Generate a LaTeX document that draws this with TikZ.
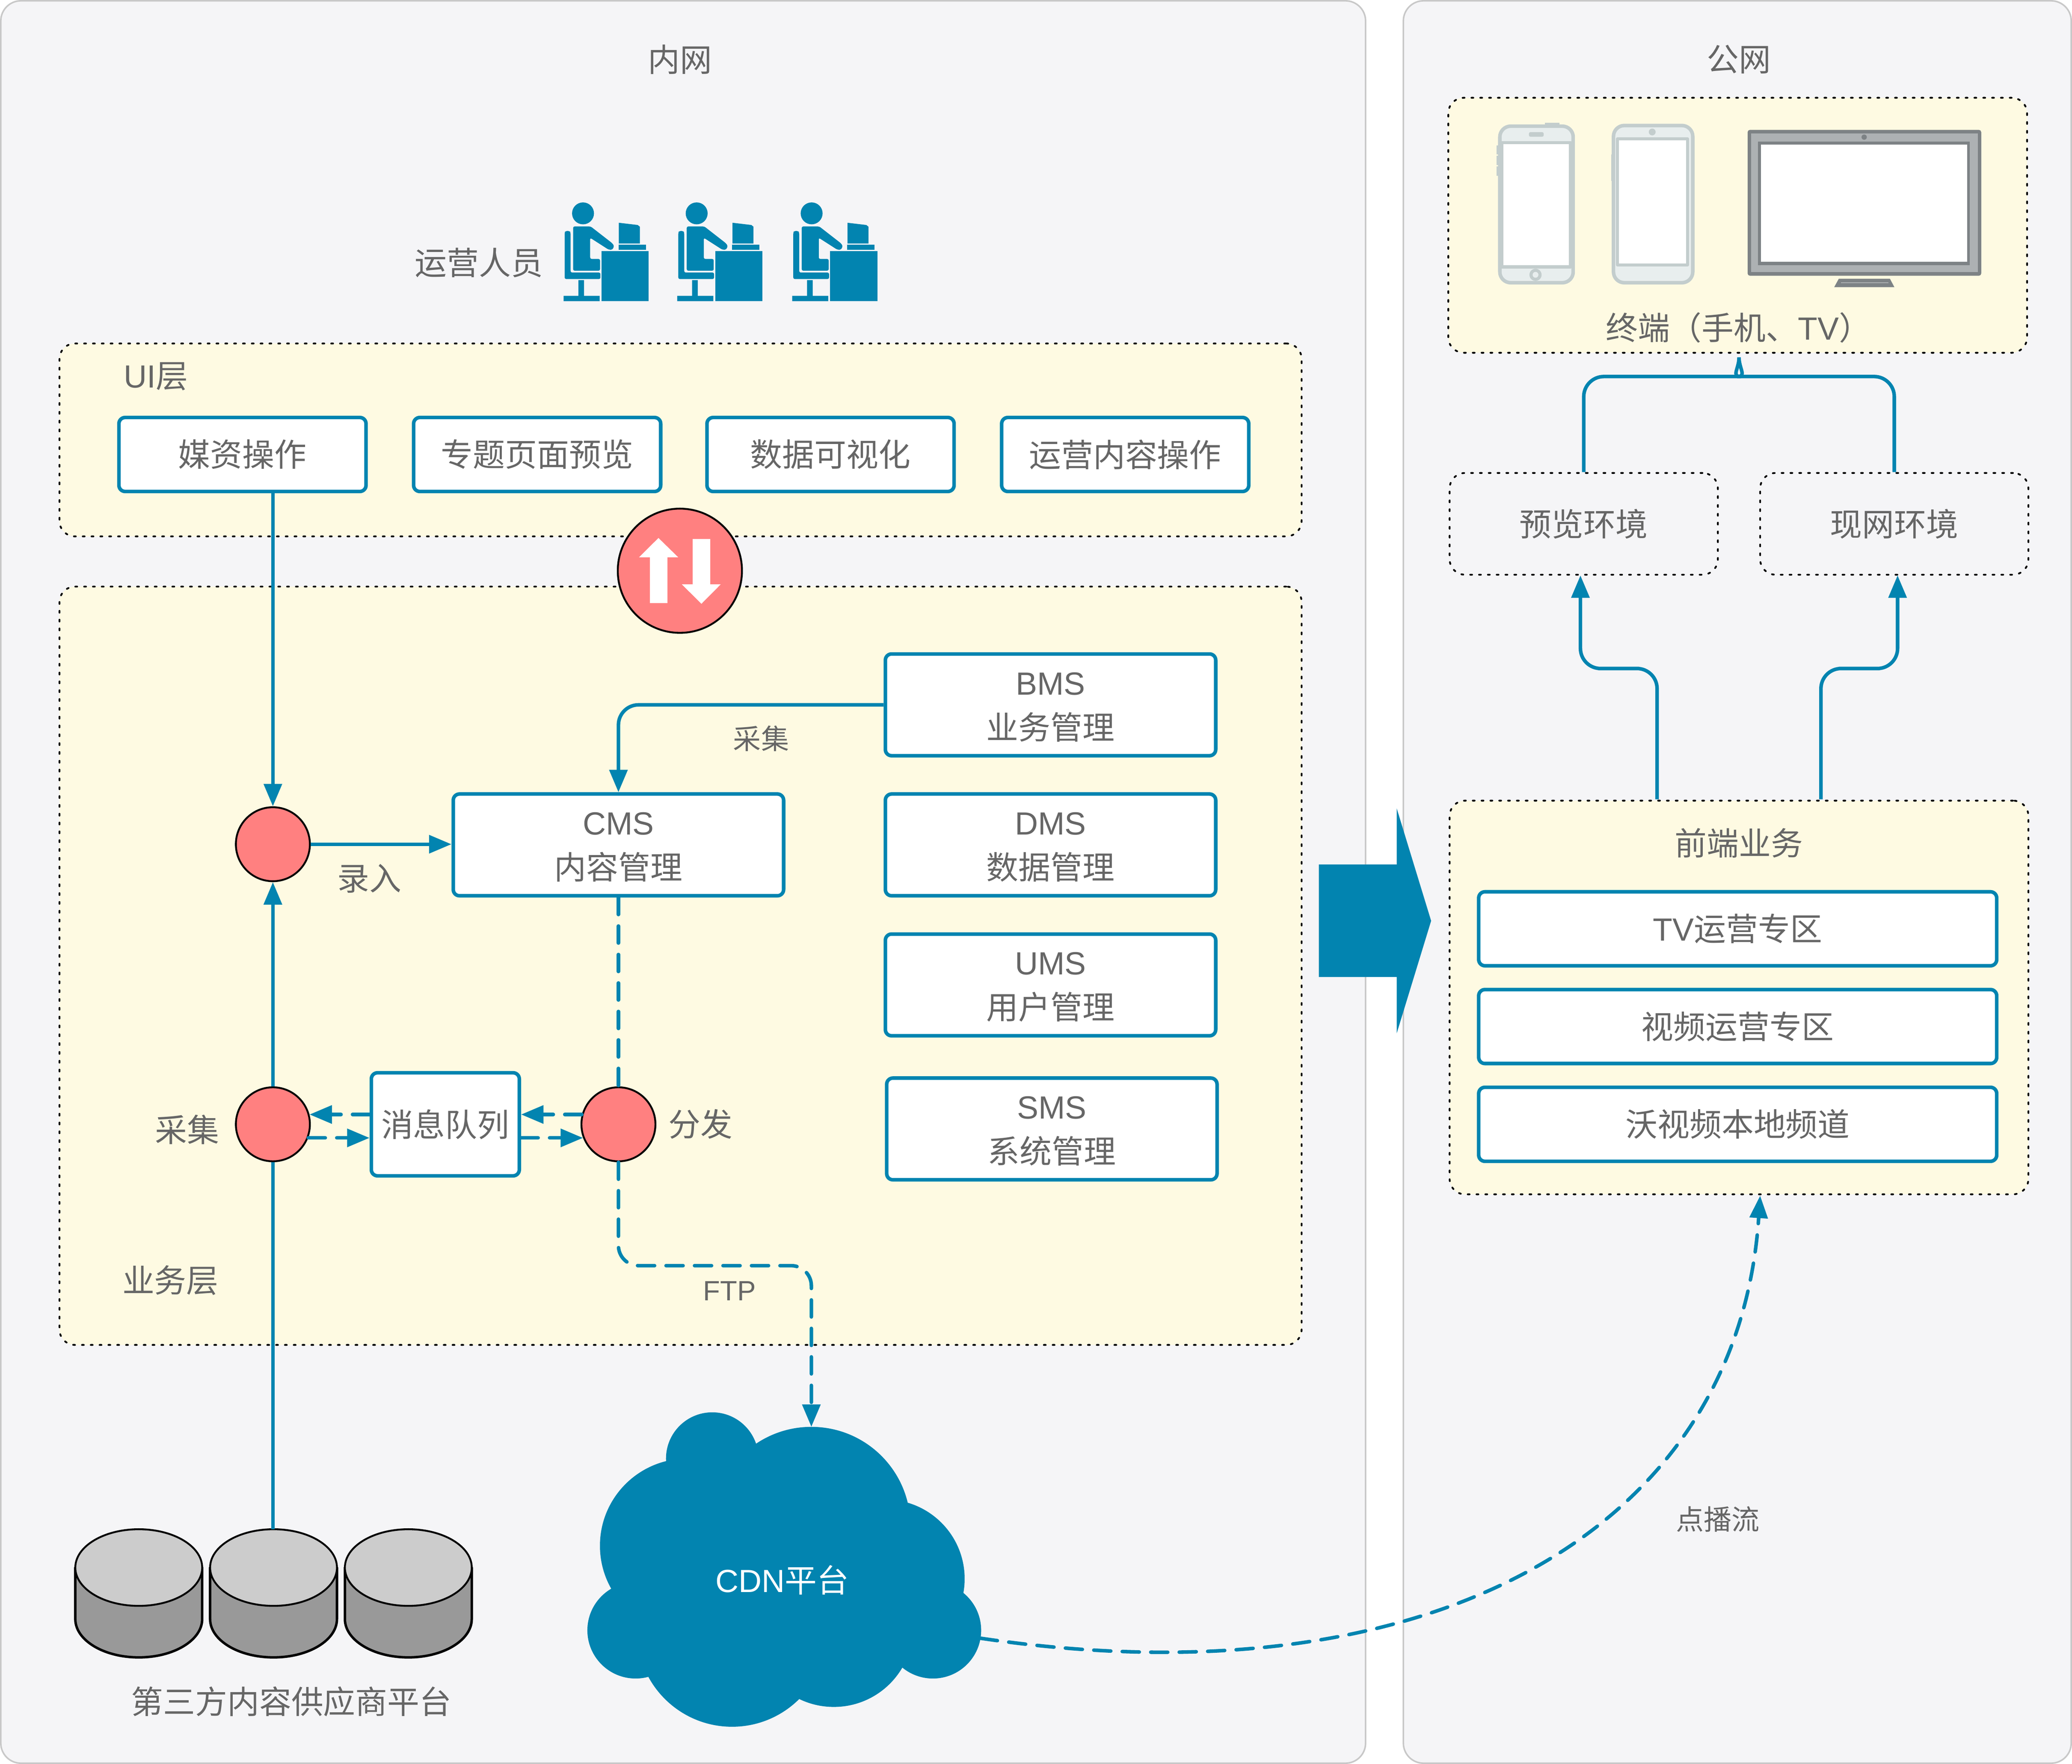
\documentclass[tikz,border=0pt]{standalone}
\usepackage{fontspec}
\setmainfont{Noto Sans CJK SC}
\newfontfamily\lat{Liberation Sans}
\usetikzlibrary{arrows.meta}
\definecolor{panelbg}{HTML}{F5F5F7}
\definecolor{paneledge}{HTML}{C8C8C8}
\definecolor{zonebg}{HTML}{FEFAE2}
\definecolor{netblue}{HTML}{0284B0}
\definecolor{hubred}{HTML}{FF8080}
\definecolor{txtgray}{HTML}{666666}
\definecolor{phoneedge}{HTML}{C3CDCD}
\definecolor{phonebg}{HTML}{E8EEEE}
\definecolor{tvdark}{HTML}{7D8285}
\definecolor{tvlight}{HTML}{ADB1B3}
\def\un{0.03cm}
\begin{document}
\begin{tikzpicture}[x=\un,y=-\un,>={Triangle[length=14.5pt,width=11.5pt]},line join=round,
	font=\fontsize{20.7}{28.8}\selectfont,
	every node/.style={text=txtgray,align=center},
	panel/.style={draw=paneledge,fill=panelbg,line width=1pt,rounded corners=13pt},
	zone/.style={draw=black,fill=zonebg,line width=1.15pt,line cap=round,dash pattern=on 1.2pt off 4.5pt,rounded corners=10pt,inner sep=0,minimum width=#1*\un},
	opbox/.style={draw=netblue,fill=white,line width=2.3pt,rounded corners=4pt,inner sep=0,minimum width=#1*\un},
	hub/.style={circle,draw=black,fill=hubred,line width=1.2pt,inner sep=0,minimum size=#1*\un},
	link/.style={draw=netblue,line width=2.3pt,rounded corners=13pt},
	dashlink/.style={link,dash pattern=on 11pt off 7.4pt,line cap=round},
	small/.style={font=\fontsize{18}{24}\selectfont}]
	\useasboundingbox (0,0) rectangle (1568,1335.2);
	\fill[white] (0,0) rectangle (1568,1335.2);
	\draw[panel] (.6,.6) rectangle (1033.4,1334.6);
	\draw[panel] (1062,.6) rectangle (1567.4,1334.6);
	% zones
	\node[zone=940,minimum height=146*\un] (uizone) at (515,333) {};
	\node[zone=940,minimum height=574*\un] (bizzone) at (515,731) {};
	\node[zone=438,minimum height=193*\un] (termzone) at (1315,170.5) {};
	\node[zone=203,minimum height=77*\un,fill=panelbg] (preview) at (1198.5,396.5) {预览环境};
	\node[zone=203,minimum height=77*\un,fill=panelbg] (live) at (1433.5,396.5) {现网环境};
	\node[zone=438,minimum height=298*\un] (front) at (1316,755) {};
	% boxes
	\foreach \p/\x/\t in {media/183.5/媒资操作,topic/406.5/专题页面预览,visual/628.5/数据可视化,oper/851.5/运营内容操作}
	\node[opbox=187,minimum height=56*\un] (\p) at (\x,344) {\t};
	\foreach \p/\x/\y/\t in {bms/795/533.5/{\lat BMS}\\业务管理,dms/795/639.5/{\lat DMS}\\数据管理,ums/795/745.5/{\lat UMS}\\用户管理,sms/796/854.5/{\lat SMS}\\系统管理,cms/468/639.5/{\lat CMS}\\内容管理}
	\node[opbox=250,minimum height=77*\un] (\p) at (\x,\y) {\rule{0pt}{17.4pt}\t};
	\node[opbox=112,minimum height=78*\un,inner sep=0] (queue) at (337,851) {消息队列};
	\foreach \p/\y/\t in {tvzone/703/{\lat TV}运营专区,video/777/视频运营专区,local/851/沃视频本地频道}
	\node[opbox=392,minimum height=56*\un] (\p) at (1315,\y) {\t};
	% hubs
	\foreach \p/\x/\y in {hubin/206.5/639,hubget/206.5/851,hubout/468/851}
	\node[hub=56] (\p) at (\x,\y) {};
	\node[hub=94] (swap) at (514.5,432) {};
	\fill[white] (498.3,407.2)--(513.2,421.8)--(505.1,421.8)--(505.1,456.5)--(491.8,456.5)--(491.8,421.8)--(483.6,421.8)--cycle;
	\fill[white] (530.8,457)--(516,442.3)--(524.2,442.3)--(524.2,408)--(537.5,408)--(537.5,442.3)--(545.4,442.3)--cycle;
	% big arrow
	\fill[netblue] (998,654.4)--(1057,654.4)--(1057,612)--(1083,697)--(1057,782)--(1057,739.5)--(998,739.5)--cycle;
	% operators
	\foreach \o in {0,86,173}{
		\begin{scope}[shift={(\o,0)},netblue]
			\fill (441.2,161.5) circle (8.3);
			\fill[rounded corners=1pt] (427.3,176)--(428,174.8)--(431,174.8)--(431.8,176)--(431.8,206.3)--(454.4,206.3)--(454.4,211.2)--(427.3,211.2)--cycle;
			\fill (437.7,212)--(442,212)--(442,223.9)--(453.8,223.9)--(453.8,228)--(426.5,228)--(426.5,223.9)--(437.7,223.9)--cycle;
			\fill[rounded corners=1pt] (433.7,171.4)--(447,171.4)--(463.2,184)--(464.8,186.1)--(463.5,189)--(460.6,189)--(446.6,180)--(446.6,196)--(454.1,196)--(454.1,204.9)--(433.7,204.9)--cycle;
			\fill (455.2,190.1) rectangle (490.9,227.9);
			\fill (468,185.2) rectangle (488.8,189.2);
			\fill (468.3,168.6)--(482.6,170.3)--(484.2,171.6)--(484.2,184.3)--(468.3,184.3)--cycle;
		\end{scope}
	}
	% devices
	\draw[phoneedge,fill=phonebg,line width=2.3pt,rounded corners=7pt] (1135,95.5) rectangle (1190.5,214);
	\draw[phoneedge,fill=white,line width=2pt] (1136.5,108) rectangle (1188.5,202);
	\fill[phoneedge] (1169,93) rectangle (1180,96);
	\fill[phoneedge,rounded corners=1pt] (1157,100) rectangle (1168.2,103.5);
	\fill[phoneedge] (1162,208) circle (4.6);
	\fill[phonebg] (1162,208) circle (2.2);
	\foreach \a/\b in {110/117,118/125,126/133}
	\draw[phoneedge,line width=2pt] (1133.6,\a)--(1133.6,\b);
	\draw[phoneedge,fill=phonebg,line width=2.3pt,rounded corners=7pt] (1221,95) rectangle (1281,214);
	\draw[phoneedge,fill=white,line width=2pt] (1224,105) rectangle (1277,200.5);
	\fill[phoneedge] (1250.3,99.9) circle (2.6);
	\draw[phoneedge,line width=2pt] (1281,110)--(1281,118) (1220.5,117)--(1220.5,137);
	\fill[tvdark,rounded corners=1.5pt] (1322.5,98.3) rectangle (1499.3,208.7);
	\fill[tvlight] (1325.2,100.9) rectangle (1496.8,206);
	\fill[tvdark] (1330.5,107) rectangle (1490.6,200.6);
	\fill[white] (1332.7,109.5) rectangle (1488.5,198);
	\fill[tvdark] (1410.7,103.8) circle (2);
	\fill[tvdark] (1391.5,211)--(1430.2,211)--(1433.6,217.4)--(1388,217.4)--cycle;
	\draw[tvlight,line width=.5pt] (1393,214)--(1429,214);
	% disks
	\foreach \p/\x in {diska/105,diskb/207,diskc/309}{
		\draw[black,fill=black!40,line width=1.6pt] (\x-48,1186.5)--(\x-48,1225.5) arc[start angle=180,end angle=0,x radius=48,y radius=29]--(\x+48,1186.5)--cycle;
		\draw[black,fill=black!20,line width=1.2pt] (\x,1186.5) ellipse (48 and 29);
		\coordinate (\p) at (\x,1157.5);
	}
	% cloud
	\fill[netblue] (539,1104) circle (35) (614,1155) circle (75) (520,1170) circle (66) (670,1195) circle (60)
	(706,1234) circle (36.5) (481,1234) circle (36.5) (554,1235) circle (72) (631,1232) circle (60) (590,1190) circle (62);
	\node[text=white] (cdn) at (592,1196) {{\lat CDN}平台};
	\path (742,1240) coordinate (cloudout) (614,1080) coordinate (cloudin) (1332,905) coordinate (frontin)
	(1316,270.5) coordinate (bracetip) (1316,279) coordinate (bracemid) (533,958) coordinate (ftpbend)
	(1196,435.5) coordinate (previewin) (1436,435.5) coordinate (livein) (1254,605) coordinate (frontl) (1378,605) coordinate (frontr)
	(1225,506) coordinate (bendl) (1407,506) coordinate (bendr) (1302,285) coordinate (bracel) (1330,285) coordinate (bracer);
	% labels
	\foreach \p/\x/\y/\t in {lan/514.5/45/内网,wan/1316/45/公网,staff/362.5/199/运营人员,uilab/118/285/{\lat UI}层,bizlab/129/969/业务层,
		getlab/141.5/855/采集,outlab/530/851/分发,inlab/279.5/665/录入,vendor/220.5/1288/第三方内容供应商平台,
		termlab/1315.5/248/终端（手机、{\lat TV}）,frontlab/1316/638/前端业务}
	\node (\p) at (\x,\y) {\t};
	\foreach \p/\x/\y/\t in {cmslab/576/559/采集,ftplab/552/977/{\lat FTP},vodlab/1300/1150/点播流}
	\node[small] (\p) at (\x,\y) {\t};
	% connectors
	\draw[link,->] (hubin |- media.south)--(hubin.north);
	\draw[link,->] (hubin.east)--(hubin.east -| cms.west);
	\draw[link,->] (hubget.north)--(hubin.south);
	\draw[link] (hubget.south |- diskb)--(hubget.south);
	\draw[link,->] (bms.west)-|(cms.north);
	\draw[dashlink] (cms.south)--(hubout.north);
	\draw[dashlink,->] (hubout.165)--(hubout.165 -| queue.east);
	\draw[dashlink,->] (queue.east |- hubout.201)--(hubout.201);
	\draw[dashlink,->] (queue.west |- hubget.15)--(hubget.15);
	\draw[dashlink,->] (hubget.-21)--(hubget.-21 -| queue.west);
	\draw[dashlink,->] (hubout.south)|-(ftpbend)-|(cloudin);
	\draw[link,->] (frontl)|-(bendl)-|(previewin);
	\draw[link,->] (frontr)|-(bendr)-|(livein);
	\draw[link] (preview.north)|-(bracel) [sharp corners] .. controls (1310,285) and (bracemid) .. (bracetip);
	\draw[link] (live.north)|-(bracer) [sharp corners] .. controls (1322,285) and (bracemid) .. (bracetip);
	\draw[dashlink,->] (cloudout) .. controls (1080,1290) and (1315,1160) .. (frontin);
\end{tikzpicture}
\end{document}
